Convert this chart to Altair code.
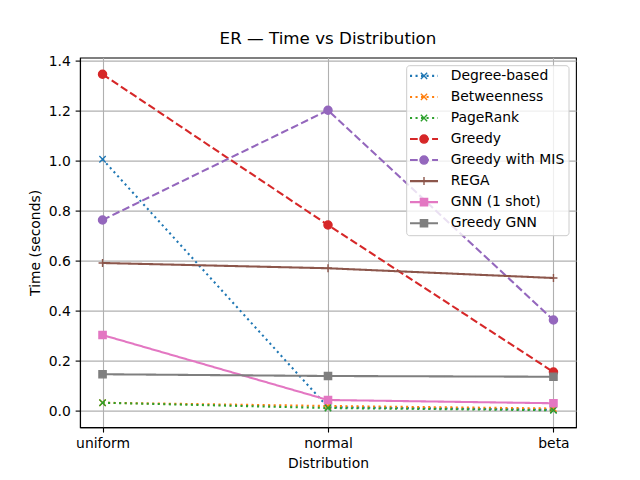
import altair as alt
import pandas as pd

distributions = ["uniform", "normal", "beta"]
series_names = ["Degree-based", "Betweenness", "PageRank", "Greedy", "Greedy with MIS",
                "REGA", "GNN (1 shot)", "Greedy GNN"]
deg_vals = [1.007, 0.015, 0.005]
btw_vals = [0.033, 0.020, 0.010]
pr_vals = [0.033, 0.012, 0.003]
greedy_vals = [1.347, 0.744, 0.156]
mis_vals = [0.764, 1.203, 0.364]
rega_vals = [0.592, 0.571, 0.532]
gnn_vals = [0.304, 0.044, 0.031]
ggnn_vals = [0.147, 0.140, 0.137]
all_vals = [deg_vals, btw_vals, pr_vals, greedy_vals, mis_vals, rega_vals, gnn_vals, ggnn_vals]

colors = ["#1f77b4", "#ff7f0e", "#2ca02c", "#d62728", "#9467bd", "#8c564b", "#e377c2", "#7f7f7f"]
LW = 2.08
dot = [2.08, 3.44]
dash = [7.71, 3.33]
solid = [1, 0]
dashes = [dot, dot, dot, dash, dash, solid, solid, solid]
XS = "M-1,-1L1,1M-1,1L1,-1"
PLUS = "M-1,0L1,0M0,-1L0,1"
shapes = [XS, XS, XS, "circle", "circle", PLUS, "square", "square"]
sizes = [40, 40, 40, 66, 66, 64, 52, 52]

rows = []
for i, (name, vals) in enumerate(zip(series_names, all_vals)):
    for d, v in zip(distributions, vals):
        rows.append({"series": name, "dist": d, "time": v, "idx": i})
df = pd.DataFrame(rows)

FONT = "DejaVu Sans"
W, H = 496, 369.6

x_enc = alt.X("dist:N", sort=distributions, scale=alt.Scale(type="point", padding=0.1),
              axis=alt.Axis(title="Distribution", labelAngle=0, grid=True))
y_enc = alt.Y("time:Q", scale=alt.Scale(domain=[-0.0648, 1.4136], nice=False, zero=False),
              axis=alt.Axis(title="Time (seconds)", values=[0, 0.2, 0.4, 0.6, 0.8, 1.0, 1.2, 1.4],
                            format=".1f", grid=True))

layers = []
for i, name in enumerate(series_names):
    sub = alt.Chart(df).transform_filter(alt.datum.series == name)
    line = sub.mark_line(strokeWidth=LW, strokeDash=dashes[i], color=colors[i], strokeCap="butt").encode(
        x=x_enc, y=y_enc, order="idx:Q")
    pts = sub.mark_point(filled=True, shape=shapes[i], size=sizes[i], fill=colors[i],
                         stroke=colors[i], strokeWidth=1.39, opacity=1).encode(x=x_enc, y=y_enc)
    layers += [line, pts]

# legend
leg_df = pd.DataFrame({"series": series_names, "idx": list(range(len(series_names)))})
leg_base = alt.Chart(leg_df).transform_calculate(ly="18.3 + 21.04 * datum.idx")
box = alt.Chart(pd.DataFrame({"a": [0]})).mark_rect(
    fill="white", fillOpacity=0.8, stroke="#cccccc", strokeWidth=1, cornerRadius=3).encode(
    x=alt.value(326.7), x2=alt.value(489), y=alt.value(8.1), y2=alt.value(178.1))
layers.append(box)
for i, name in enumerate(series_names):
    lb = leg_base.transform_filter(alt.datum.series == name)
    layers.append(lb.mark_rule(strokeWidth=LW, strokeDash=dashes[i], color=colors[i], strokeCap="butt").encode(
        x=alt.value(330), x2=alt.value(358), y=alt.Y("ly:Q", scale=None)))
    layers.append(lb.mark_point(filled=True, shape=shapes[i], size=sizes[i], fill=colors[i],
                                stroke=colors[i], strokeWidth=1.39, opacity=1).encode(
        x=alt.value(344), y=alt.Y("ly:Q", scale=None)))
layers.append(leg_base.mark_text(align="left", baseline="middle", font=FONT, fontSize=13.9, color="black").encode(
    x=alt.value(370.7), y=alt.Y("ly:Q", scale=None), text="series:N"))

chart = alt.layer(*layers).properties(
    width=W, height=H,
    title=alt.Title("ER — Time vs Distribution", font=FONT, fontSize=16.7, fontWeight="normal",
                    color="black", offset=6),
    autosize=alt.AutoSizeParams(type="none"),
    padding={"left": 72, "top": 49.6, "right": 56, "bottom": 44.8},
).configure_view(stroke="black", strokeWidth=1.11).configure_axis(
    labelFont=FONT, titleFont=FONT, labelFontSize=13.9, titleFontSize=13.9, labelColor="black",
    titleColor="black", titleFontWeight="normal", tickColor="black", tickSize=4.86, tickWidth=1.11,
    labelPadding=4.86, domainColor="black", domainWidth=1.11, gridColor="#b0b0b0", gridWidth=1.11,
    gridOpacity=1, titlePadding=5.6,
)

chart.save("out.html", embed_options={"renderer": "svg", "actions": False})
